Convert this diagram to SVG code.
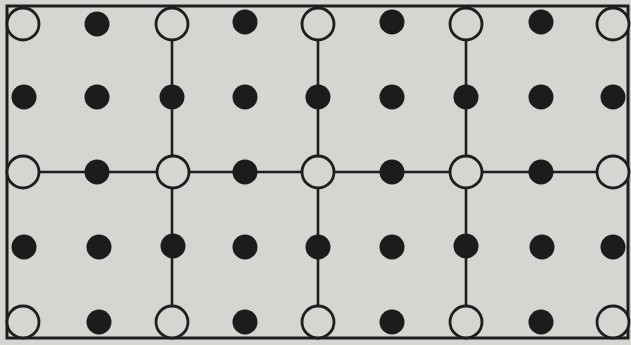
<svg xmlns="http://www.w3.org/2000/svg" width="631" height="345" viewBox="0 0 631 345">
<style>
.bg{fill:#d7d5d1}
.frame{fill:none;stroke:#1e1e1e;stroke-width:3}
.ln{stroke:#1e1e1e;stroke-width:2.6;fill:none}
.open{fill:#d7d5d1;stroke:#1e1e1e;stroke-width:2.8}
.dot{fill:#1c1c1c}
</style>
<defs>
<circle id="o" r="16" class="open"/>
<circle id="d" r="12.5" class="dot"/>
</defs>
<rect class="bg" x="0" y="0" width="631" height="345"/>
<g id="connectors">
<rect class="frame" x="7" y="6" width="621" height="332"/>
<line class="ln" x1="172" y1="24" x2="172" y2="322"/>
<line class="ln" x1="318" y1="24" x2="318" y2="322"/>
<line class="ln" x1="466" y1="24" x2="466" y2="322"/>
<line class="ln" x1="7" y1="172" x2="628" y2="172"/>
</g>
<g id="open-circles">
<g id="o1"><use href="#o" x="23" y="24"/></g>
<g id="o2"><use href="#o" x="172" y="24"/></g>
<g id="o3"><use href="#o" x="318" y="24"/></g>
<g id="o4"><use href="#o" x="466" y="24"/></g>
<g id="o5"><use href="#o" x="613" y="24"/></g>
<g id="o6"><use href="#o" x="23" y="172"/></g>
<g id="o7"><use href="#o" x="173" y="172"/></g>
<g id="o8"><use href="#o" x="318" y="172"/></g>
<g id="o9"><use href="#o" x="466" y="172"/></g>
<g id="o10"><use href="#o" x="613" y="172"/></g>
<g id="o11"><use href="#o" x="23" y="322"/></g>
<g id="o12"><use href="#o" x="172" y="322"/></g>
<g id="o13"><use href="#o" x="318" y="322"/></g>
<g id="o14"><use href="#o" x="466" y="322"/></g>
<g id="o15"><use href="#o" x="613" y="322"/></g>
</g>
<g id="dots">
<g id="d1"><use href="#d" x="97" y="24"/></g>
<g id="d2"><use href="#d" x="245" y="22"/></g>
<g id="d3"><use href="#d" x="392" y="22"/></g>
<g id="d4"><use href="#d" x="541" y="22"/></g>
<g id="d5"><use href="#d" x="24" y="97"/></g>
<g id="d6"><use href="#d" x="97" y="97"/></g>
<g id="d7"><use href="#d" x="172" y="97"/></g>
<g id="d8"><use href="#d" x="245" y="97"/></g>
<g id="d9"><use href="#d" x="318" y="97"/></g>
<g id="d10"><use href="#d" x="392" y="97"/></g>
<g id="d11"><use href="#d" x="466" y="97"/></g>
<g id="d12"><use href="#d" x="541" y="97"/></g>
<g id="d13"><use href="#d" x="613" y="97"/></g>
<g id="d14"><use href="#d" x="97" y="172"/></g>
<g id="d15"><use href="#d" x="245" y="172"/></g>
<g id="d16"><use href="#d" x="392" y="172"/></g>
<g id="d17"><use href="#d" x="541" y="172"/></g>
<g id="d18"><use href="#d" x="24" y="247"/></g>
<g id="d19"><use href="#d" x="99" y="247"/></g>
<g id="d20"><use href="#d" x="173" y="246"/></g>
<g id="d21"><use href="#d" x="245" y="247"/></g>
<g id="d22"><use href="#d" x="318" y="247"/></g>
<g id="d23"><use href="#d" x="392" y="247"/></g>
<g id="d24"><use href="#d" x="466" y="246"/></g>
<g id="d25"><use href="#d" x="542" y="247"/></g>
<g id="d26"><use href="#d" x="613" y="247"/></g>
<g id="d27"><use href="#d" x="99" y="322"/></g>
<g id="d28"><use href="#d" x="245" y="322"/></g>
<g id="d29"><use href="#d" x="392" y="322"/></g>
<g id="d30"><use href="#d" x="541" y="322"/></g>
</g>
</svg>
